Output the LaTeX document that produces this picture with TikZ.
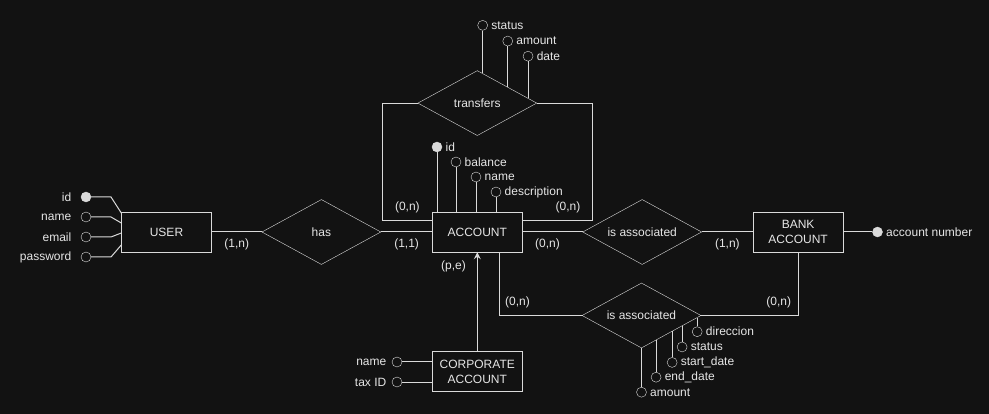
\documentclass[tikz,border=0pt]{standalone}
\usepackage{fontspec}
\setmainfont{Liberation Sans}
\usetikzlibrary{arrows.meta,positioning,shapes.geometric,calc}
\definecolor{bg}{HTML}{121212}
\definecolor{ink}{HTML}{DADADA}
\definecolor{txt}{HTML}{E6E6E6}

\begin{document}
\begin{tikzpicture}[
  x=1pt, y=-1pt,
  font=\fontsize{12}{15}\selectfont,
  >={Stealth[length=7pt, width=7pt, inset=2.5pt]},
  entity/.style={draw=ink, fill=bg, text=txt, align=center, minimum width=90pt, minimum height=40pt, inner sep=0pt},
  rel/.style={diamond, draw=ink, fill=bg, text=txt, aspect=1.83, minimum width=119pt, minimum height=65pt, inner sep=0pt},
  attr/.style={circle, draw=ink, fill=bg, minimum size=10pt, inner sep=0pt},
  key/.style={attr, fill=ink},
  card/.style={text=txt, inner sep=0pt},
  link/.style={draw=ink, line width=1pt},
  every label/.append style={text=txt}
]
  \fill[bg] (0,0) rectangle (989,414);

  % entities and relationships
  \node[entity] (user) at (166.5,232) {USER};
  \node[rel, right=50pt of user] (has) {has};
  \node[entity, right=51pt of has] (account) {ACCOUNT};
  \node[rel, right=60pt of account] (bankrel) {is associated};
  \node[entity, right=51pt of bankrel] (bank) {BANK\\ACCOUNT};
  \node[rel, above=76pt of account] (transfers) {transfers};
  \node[entity, below=99pt of account] (corp) {CORPORATE\\ACCOUNT};
  \node[rel] (dealrel) at (641.5,315.5) {is associated};

  \draw[link] (user) -- node[card, below=6pt] {(1,n)} (has);
  \draw[link] (has) -- node[card, below=6pt] {(1,1)} (account);
  \draw[link] (account) -- node[card, below=6pt, xshift=-5pt] {(0,n)} (bankrel);
  \draw[link] (bankrel) -- node[card, below=6pt] {(1,n)} (bank);
  \draw[link] (transfers.west) -- ++(-35,0) |- node[card, pos=.75, above=8pt] {(0,n)} ([yshift=11pt]account.west);
  \draw[link] ([yshift=11pt]account.east) -- node[card, pos=.65, above=8pt] {(0,n)} ++(70,0) |- (transfers.east);
  \draw[link] ([xshift=22pt]account.south) |- node[card, pos=.61, above=7pt] {(0,n)} (dealrel.west);
  \draw[link] (dealrel.east) -| node[card, pos=.4, above=7pt] {(0,n)} (bank.south);
  \draw[link, ->] (corp) -- node[card, pos=.86, left=11pt] {(p,e)} (account);

  % USER attributes
  \node[key, label={[xshift=-6pt]left:id}] (userid) at (86,197) {};
  \node[attr, label={[xshift=-6pt]left:name}] (username) at (86,217) {};
  \node[attr, label={[xshift=-6pt]left:email}] (useremail) at (86,237) {};
  \node[attr, label={[xshift=-6pt]left:password}] (userpass) at (86,257) {};
  \draw[link] (userid) -- ++(25,0) -- ([yshift=19pt]user.west);
  \draw[link] (username) -- ++(25,0) -- ([yshift=9pt]user.west);
  \draw[link] (useremail) -- ++(25,0) -- ([yshift=-1pt]user.west);
  \draw[link] (userpass) -- ++(25,0) -- ([yshift=-13pt]user.west);

  % ACCOUNT attributes
  \node[key, label=right:id] (accid) at (437,147) {};
  \node[attr, label=right:balance] (accbal) at (456,162) {};
  \node[attr, label=right:name] (accname) at (476,177) {};
  \node[attr, label=right:description] (accdesc) at (496,192) {};
  \draw[link] (accid) -- (accid |- account.north);
  \draw[link] (accbal) -- (accbal |- account.north);
  \draw[link] (accname) -- (accname |- account.north);
  \draw[link] (accdesc) -- (accdesc |- account.north);

  % transfers attributes
  \coordinate (trstatusfoot) at ($(transfers.north)!.09!(transfers.east)$);
  \coordinate (tramountfoot) at ($(transfers.north)!.51!(transfers.east)$);
  \coordinate (trdatefoot) at ($(transfers.north)!.85!(transfers.east)$);
  \node[attr, label=right:status] (trstatus) at ([yshift=48pt]trstatusfoot) {};
  \node[attr, label=right:amount] (tramount) at ([yshift=46pt]tramountfoot) {};
  \node[attr, label=right:date] (trdate) at ([yshift=42pt]trdatefoot) {};
  \draw[link] (trstatus) -- (trstatusfoot);
  \draw[link] (tramount) -- (tramountfoot);
  \draw[link] (trdate) -- (trdatefoot);

  % BANK ACCOUNT attribute
  \node[key, right=29pt of bank, label=right:account number] (banknum) {};
  \draw[link] (bank) -- (banknum);

  % CORPORATE ACCOUNT attributes
  \node[attr, label={[xshift=-2pt]left:name}] (corpname) at (397,362) {};
  \node[attr, label={[xshift=-2pt]left:tax ID}] (corptax) at (397,382) {};
  \draw[link] (corpname) -- (corpname -| corp.west);
  \draw[link] (corptax) -- (corptax -| corp.west);

  % attributes of the second association
  \coordinate (dlendfoot) at ($(dealrel.south)!.244!(dealrel.east)$);
  \coordinate (dlstartfoot) at ($(dealrel.south)!.513!(dealrel.east)$);
  \coordinate (dlstatusfoot) at ($(dealrel.south)!.68!(dealrel.east)$);
  \coordinate (dldirfoot) at ($(dealrel.south)!.933!(dealrel.east)$);
  \node[attr, label=right:amount] (dlamount) at ([yshift=-44pt]dealrel.south) {};
  \node[attr, label=right:end\_date] (dlend) at ([yshift=-37pt]dlendfoot) {};
  \node[attr, label=right:start\_date] (dlstart) at ([yshift=-31pt]dlstartfoot) {};
  \node[attr, label=right:status] (dlstatus) at ([yshift=-21pt]dlstatusfoot) {};
  \node[attr, label=right:direccion] (dldir) at ([yshift=-14pt]dldirfoot) {};
  \draw[link] (dlamount) -- (dealrel.south);
  \draw[link] (dlend) -- (dlendfoot);
  \draw[link] (dlstart) -- (dlstartfoot);
  \draw[link] (dlstatus) -- (dlstatusfoot);
  \draw[link] (dldir) -- (dldirfoot);
\end{tikzpicture}
\end{document}
